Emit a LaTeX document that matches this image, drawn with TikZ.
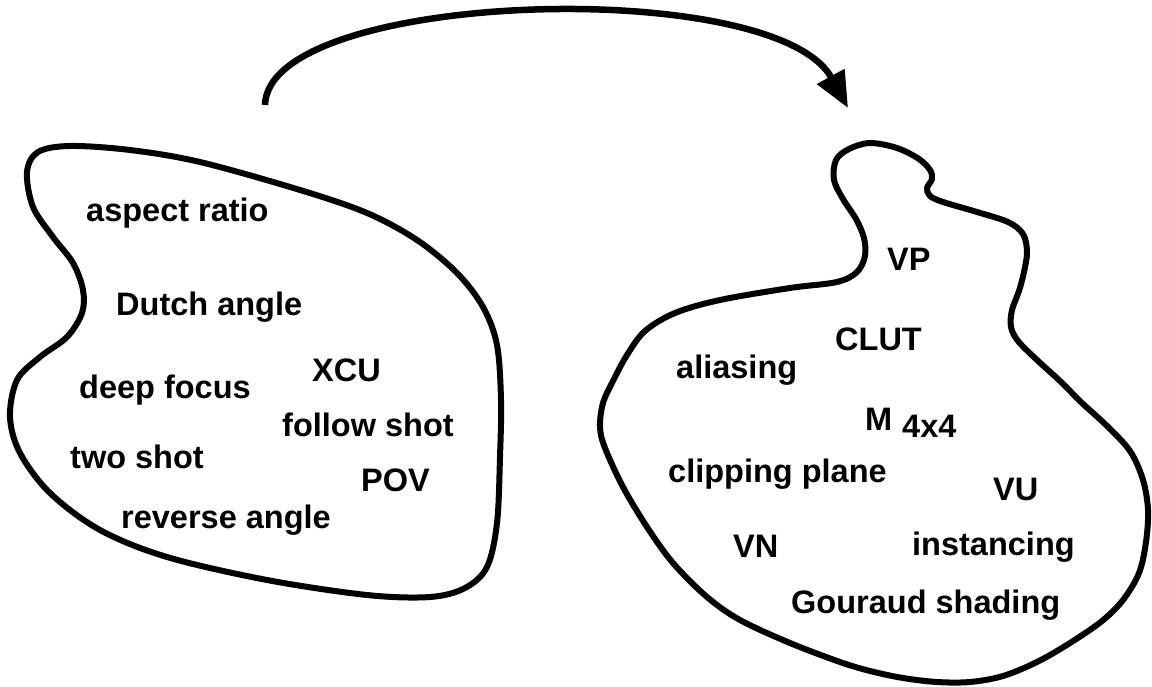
\documentclass[tikz,border=0pt]{standalone}
\usepackage{fontspec}
\setmainfont{Liberation Sans}
\usetikzlibrary{arrows.meta}
\tikzset{
  term/.style={anchor=base west, inner sep=0pt, font=\fontsize{32.5}{39}\selectfont\bfseries},
  blob/.style={line width=6pt, line join=round},
  flow/.style={line width=6.5pt, -{Triangle[length=36pt,width=30pt]}}
}
\begin{document}
\begin{tikzpicture}[x=1pt,y=-1pt]
\useasboundingbox (0,0) rectangle (1152,687);
% left blob
\draw[blob] plot[smooth cycle, tension=0.55] coordinates {
 (27,172) (38,152) (70,146) (130,150) (200,162) (300,190) (367,213) (417,240)
 (457,273) (483,307) (497,345) (501,400) (500,457) (497,523) (487,567) (465,588)
 (430,597) (367,595) (267,580) (167,557) (100,530) (50,493) (20,453) (10,417)
 (17,380) (40,357) (67,337) (82,313) (83,290) (73,263) (53,237) (33,207)};
% right blob
\draw[blob] plot[smooth cycle, tension=0.55] coordinates {
 (603,403) (613,381) (627,355) (645,331) (675,313) (720,300) (790,288) (837,282)
 (857,272) (865,256) (864,238) (856,219) (843,199) (834,180) (836,160) (849,149)
 (870,143) (897,148) (919,159) (930,170) (932,179) (927,188) (930,196) (943,202)
 (977,212) (1008,222) (1023,234) (1027,252) (1024,272) (1019,291) (1012,310)
 (1011,327) (1018,341) (1037,360) (1060,381) (1082,403) (1106,425) (1130,451)
 (1143,480) (1148,510) (1146,542) (1139,573) (1123,600) (1102,621) (1070,643)
 (1037,662) (1003,676) (970,682) (937,682) (903,678) (870,671) (840,662)
 (790,643) (740,620) (707,597) (673,563) (647,527) (623,487) (605,448) (600,427)};
% left terms
\node[term] (aspect) at (86,222) {aspect ratio};
\node[term] (dutch) at (116,316) {Dutch angle};
\node[term] (xcu) at (312,381) {XCU};
\node[term] (deep) at (79,398) {deep focus};
\node[term] (follow) at (282,436) {follow shot};
\node[term] (two) at (70,468) {two shot};
\node[term] (pov) at (361,491) {POV};
\node[term] (reverse) at (121,528) {reverse angle};
% right terms
\node[term] (vp) at (887,271) {VP};
\node[term] (clut) at (835,350) {CLUT};
\node[term] (alias) at (676,378) {aliasing};
\node[term] (m) at (865,430) {M};
\node[term] (fxf) at (902,437) {4x4};
\node[term] (clip) at (668,482) {clipping plane};
\node[term] (vu) at (993,500) {VU};
\node[term] (vn) at (733,557) {VN};
\node[term] (inst) at (912,555) {instancing};
\node[term] (gour) at (791,613) {Gouraud shading};
% arrow
\coordinate (arrowstart) at (265,105);
\coordinate (arrowend) at (848,108);
\draw[flow] (arrowstart) .. controls (268,-10) and (775,-25) .. (arrowend);
\end{tikzpicture}
\end{document}
